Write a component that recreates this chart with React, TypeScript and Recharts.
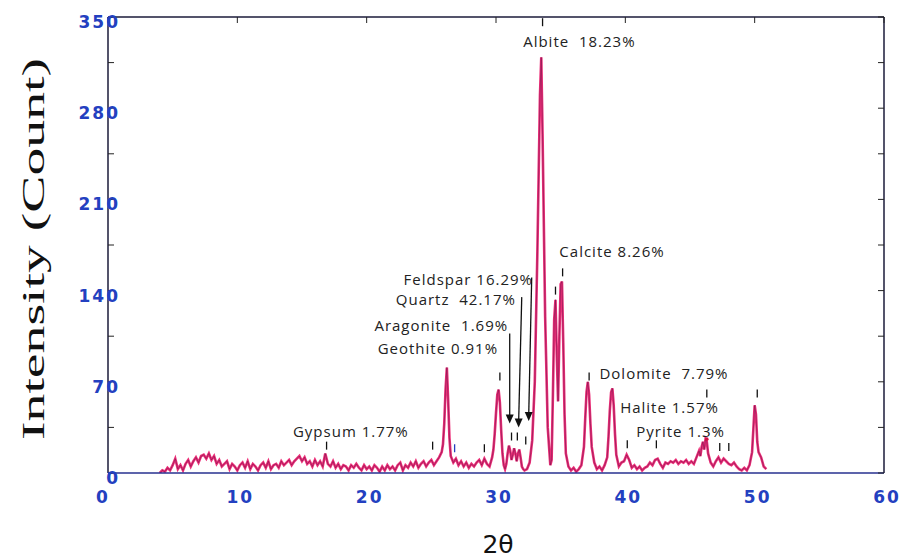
import React from 'react';
import { ComposedChart, Line, XAxis, YAxis, ReferenceDot, ReferenceLine } from 'recharts';

// 2θ positions (degrees)
const angles = [
  4.0, 4.2, 4.4, 4.6, 4.8, 5.0, 5.2, 5.4, 5.6, 5.8,
  6.0, 6.2, 6.4, 6.6, 6.8, 7.0, 7.2, 7.4, 7.6, 7.8,
  8.0, 8.2, 8.4, 8.6, 8.8, 9.0, 9.2, 9.4, 9.6, 9.8,
  10.0, 10.2, 10.4, 10.6, 10.8, 11.0, 11.2, 11.4, 11.6, 11.8,
  12.0, 12.2, 12.4, 12.6, 12.8, 13.0, 13.2, 13.4, 13.6, 13.8,
  14.0, 14.2, 14.4, 14.6, 14.8, 15.0, 15.2, 15.4, 15.6, 15.8,
  16.0, 16.2, 16.4, 16.6, 16.8, 17.0, 17.2, 17.4, 17.6, 17.8,
  18.0, 18.2, 18.4, 18.6, 18.8, 19.0, 19.2, 19.4, 19.6, 19.8,
  20.0, 20.2, 20.4, 20.6, 20.8, 21.0, 21.2, 21.4, 21.6, 21.8,
  22.0, 22.2, 22.4, 22.6, 22.8, 23.0, 23.2, 23.4, 23.6, 23.8,
  24.0, 24.2, 24.4, 24.6, 24.8, 25.0, 25.2, 25.4, 25.6, 25.8,
  25.9, 26.0, 26.1, 26.2, 26.3, 26.4, 26.5, 26.7, 26.9, 27.1,
  27.3, 27.5, 27.7, 27.9, 28.1, 28.3, 28.5, 28.7, 28.9, 29.1,
  29.3, 29.5, 29.7, 29.8, 29.9, 30.0, 30.1, 30.2, 30.3, 30.4,
  30.5, 30.6, 30.7, 30.8, 30.9, 31.0, 31.1, 31.2, 31.3, 31.4,
  31.5, 31.6, 31.7, 31.8, 31.9, 32.0, 32.1, 32.2, 32.4, 32.6,
  32.8, 33.0, 33.2, 33.4, 33.5, 33.6, 33.8, 34.0, 34.2, 34.3,
  34.4, 34.5, 34.6, 34.7, 34.8, 34.9, 35.0, 35.1, 35.2, 35.3,
  35.4, 35.6, 35.8, 36.0, 36.2, 36.4, 36.6, 36.8, 36.9, 37.0,
  37.1, 37.2, 37.3, 37.4, 37.6, 37.8, 38.0, 38.2, 38.4, 38.6,
  38.7, 38.8, 38.9, 39.0, 39.1, 39.2, 39.3, 39.5, 39.7, 39.9,
  40.1, 40.3, 40.5, 40.7, 40.9, 41.1, 41.3, 41.5, 41.7, 41.9,
  42.1, 42.3, 42.5, 42.7, 42.9, 43.1, 43.3, 43.5, 43.7, 43.9,
  44.1, 44.3, 44.5, 44.7, 44.9, 45.1, 45.3, 45.5, 45.7, 45.8,
  45.9, 46.0, 46.1, 46.2, 46.3, 46.4, 46.6, 46.8, 47.0, 47.2,
  47.4, 47.6, 47.8, 48.0, 48.2, 48.4, 48.6, 48.8, 49.0, 49.2,
  49.4, 49.6, 49.8, 49.9, 50.0, 50.1, 50.2, 50.3, 50.5, 50.7,
  50.9,
];

// Intensity (counts)
const counts = [
  0, 2, 1, 4, 2, 6, 11, 3, 6, 2,
  7, 10, 5, 9, 12, 8, 13, 14, 11, 15,
  10, 13, 7, 10, 5, 7, 9, 3, 7, 5,
  2, 6, 8, 4, 9, 3, 7, 5, 2, 6,
  8, 4, 9, 3, 6, 7, 4, 9, 6, 8,
  10, 6, 9, 11, 13, 9, 12, 7, 9, 5,
  10, 6, 9, 5, 15, 7, 5, 9, 4, 7,
  3, 6, 5, 2, 6, 4, 7, 4, 2, 6,
  3, 5, 2, 6, 4, 1, 5, 2, 6, 3,
  5, 2, 6, 8, 2, 6, 4, 8, 5, 9,
  4, 7, 9, 5, 8, 10, 6, 9, 12, 16,
  22, 38, 64, 81, 56, 27, 13, 8, 11, 6,
  9, 5, 8, 4, 7, 5, 8, 10, 6, 11,
  7, 5, 12, 18, 30, 46, 60, 64, 54, 33,
  15, 6, 3, 7, 15, 21, 17, 10, 14, 19,
  15, 9, 15, 18, 12, 5, 3, 2, 3, 8,
  25, 70, 170, 290, 319, 260, 120, 35, 6, 10,
  60, 118, 133, 90, 55, 105, 145, 147, 100, 45,
  15, 5, 2, 4, 1, 3, 6, 20, 42, 62,
  70, 60, 38, 20, 8, 3, 5, 2, 6, 12,
  28, 48, 62, 65, 52, 30, 14, 5, 8, 9,
  14, 10, 4, 6, 3, 5, 2, 4, 5, 8,
  6, 10, 11, 7, 4, 8, 7, 9, 8, 10,
  7, 9, 8, 10, 7, 9, 7, 12, 17, 13,
  20, 24, 18, 26, 24, 15, 8, 5, 9, 12,
  8, 11, 9, 7, 6, 8, 5, 3, 2, 4,
  2, 6, 16, 34, 52, 45, 24, 16, 12, 5,
  3,
];

const xTicks = [0, 10, 20, 30, 40, 50, 60];
const yTicks = [0, 35, 70, 105, 140, 175, 210, 245, 280, 315, 350];
const yLabelTicks = [0, 70, 140, 210, 280, 350];

// peak markers [2θ, counts]
const peakMarkers: [number, number][] = [
  [16.9, 21], [25.1, 21], [29.1, 19], [30.3, 74], [31.2, 28], [31.65, 28],
  [32.3, 25], [33.6, 346], [34.6, 140], [35.15, 154], [37.2, 74], [40.15, 22],
  [42.4, 22], [46.3, 61], [47.3, 20], [48.0, 20], [50.2, 61],
];
const bluePeakMarkers: [number, number][] = [[26.8, 19]];
const redDots: [number, number][] = [[46.3, 26]];

// phase annotations: label, 2θ of text start, counts of baseline
const phaseNames = ['Albite  18.23%', 'Calcite 8.26%', 'Feldspar 16.29%', 'Quartz  42.17%', 'Aragonite  1.69%', 'Geothite 0.91%', 'Gypsum 1.77%', 'Dolomite  7.79%', 'Halite 1.57%', 'Pyrite 1.3%'];
const phaseAngles = [32.1, 34.9, 22.85, 22.25, 20.6, 20.85, 14.3, 38.0, 39.6, 40.85];
const phaseCounts = [327, 166, 144, 129, 109, 91, 28, 72, 46, 28];

// arrows: [from 2θ, from counts, to 2θ, to counts]
const arrows: [number, number, number, number][] = [
  [31.06, 107, 31.06, 38],
  [31.99, 135, 31.75, 35],
  [32.76, 150, 32.53, 40],
];

const data = angles.map((t, i) => ({ t, c: counts[i] }));

const BLUE = '#2340c0';
const tickFont = { fontFamily: 'DejaVu Sans', fontWeight: 700, fontSize: 17, fill: BLUE, letterSpacing: 2 };

const LeftTick = (props: any) => {
  const { x, y, payload } = props;
  const v = payload.value;
  return (
    <g>
      <line x1={x} x2={x + 6} y1={y} y2={y} stroke="#222" strokeWidth={1} />
      {yLabelTicks.includes(v) && (
        <text x={x + 12} y={y + 11} textAnchor="end" style={tickFont as any}>{v}</text>
      )}
    </g>
  );
};

const RightTick = (props: any) => {
  const { x, y } = props;
  return <line x1={x} x2={x - 6} y1={y} y2={y} stroke="#222" strokeWidth={1} />;
};

const TopTick = (props: any) => {
  const { x, y } = props;
  return <line x1={x} x2={x} y1={y} y2={y + 6} stroke="#222" strokeWidth={1} />;
};

const BottomTick = (props: any) => {
  const { x, y, payload } = props;
  const dx = payload.value === 0 ? -5 : 3;
  return (
    <text x={x + dx} y={y + 30} textAnchor="middle" style={tickFont as any}>{payload.value}</text>
  );
};

const markerShape = (color: string) => (p: any) => (
  <line x1={p.cx} x2={p.cx} y1={p.cy - 4} y2={p.cy + 4} stroke={color} strokeWidth={1.3} />
);

const textShape = (txt: string) => (p: any) => (
  <text x={p.cx} y={p.cy} fontFamily="Open Sans" fontSize={15} letterSpacing={1} fill="#222" style={{ whiteSpace: 'pre' }}>{txt}</text>
);

const arrowHead = (p: any) => (
  <polygon points={`${p.cx - 4},${p.cy - 9} ${p.cx + 4},${p.cy - 9} ${p.cx},${p.cy}`} fill="#111" />
);

const YTitle = (props: any) => {
  const vb = props.viewBox;
  const cx = vb.x + 36;
  const cy = 249;
  return (
    <text
      x={cx}
      y={cy}
      transform={`rotate(-90 ${cx} ${cy})`}
      textAnchor="middle"
      fontFamily="Liberation Serif"
      fontSize={31}
      fill="#111"
      textLength={382}
      lengthAdjust="spacingAndGlyphs"
    >
      Intensity (Count)
    </text>
  );
};

const XTitle = (props: any) => {
  const vb = props.viewBox;
  return (
    <text x={vb.x + vb.width / 2 + 2} y={vb.y + 80} textAnchor="middle" fontFamily="DejaVu Sans" fontSize={25} fill="#111">
      2θ
    </text>
  );
};

export default function App() {
  return (
    <div style={{ position: 'absolute', left: 0, top: 0, width: 905, height: 560, background: '#fff' }}>
      <ComposedChart width={905} height={560} data={data} margin={{ top: 16, right: 11, bottom: 7, left: 8 }}>
        <XAxis
          xAxisId="b"
          dataKey="t"
          type="number"
          domain={[0, 60]}
          ticks={xTicks}
          interval={0}
          tickSize={0}
          tickMargin={0}
          tickLine={false}
          tick={<BottomTick />}
          height={80}
          axisLine={{ stroke: '#27308f', strokeWidth: 1.6 }}
          allowDataOverflow
          label={XTitle}
        />
        <XAxis
          xAxisId="top"
          orientation="top"
          dataKey="t"
          type="number"
          domain={[0, 60]}
          ticks={xTicks}
          interval={0}
          tickSize={0}
          tickMargin={0}
          tickLine={false}
          tick={<TopTick />}
          height={1}
          axisLine={{ stroke: '#1b1b3a', strokeWidth: 1.5 }}
        />
        <YAxis
          yAxisId="l"
          type="number"
          domain={[0, 350]}
          ticks={yTicks}
          interval={0}
          tickSize={0}
          tickMargin={0}
          tickLine={false}
          tick={<LeftTick />}
          width={100}
          axisLine={{ stroke: '#1b1b3a', strokeWidth: 1.5 }}
          allowDataOverflow
          label={YTitle}
        />
        <YAxis
          yAxisId="r"
          orientation="right"
          type="number"
          domain={[0, 350]}
          ticks={yTicks}
          interval={0}
          tickSize={0}
          tickMargin={0}
          tickLine={false}
          tick={<RightTick />}
          width={10}
          axisLine={{ stroke: '#1b1b3a', strokeWidth: 1.5 }}
        />
        <Line xAxisId="top" yAxisId="r" dataKey="c" stroke="none" dot={false} isAnimationActive={false} legendType="none" />
        <Line xAxisId="b" yAxisId="l" type="linear" dataKey="c" stroke="#ec2f78" strokeWidth={2.6} dot={false} isAnimationActive={false} />
        <Line xAxisId="b" yAxisId="l" type="linear" dataKey="c" stroke="#6a0f48" strokeWidth={0.6} strokeOpacity={0.85} dot={false} isAnimationActive={false} />
        {arrows.map((a, i) => (
          <ReferenceLine
            key={`ar${i}`}
            xAxisId="b"
            yAxisId="l"
            segment={[{ x: a[0], y: a[1] }, { x: a[2], y: a[3] + 4 }]}
            stroke="#111"
            strokeWidth={1.3}
          />
        ))}
        {arrows.map((a, i) => (
          <ReferenceDot key={`ah${i}`} xAxisId="b" yAxisId="l" x={a[2]} y={a[3]} r={0} shape={arrowHead} />
        ))}
        {peakMarkers.map((m, i) => (
          <ReferenceDot key={`pm${i}`} xAxisId="b" yAxisId="l" x={m[0]} y={m[1]} r={0} shape={markerShape('#111')} />
        ))}
        {bluePeakMarkers.map((m, i) => (
          <ReferenceDot key={`bm${i}`} xAxisId="b" yAxisId="l" x={m[0]} y={m[1]} r={0} shape={markerShape('#2340c0')} />
        ))}
        {redDots.map((m, i) => (
          <ReferenceDot key={`rd${i}`} xAxisId="b" yAxisId="l" x={m[0]} y={m[1]} r={1.8} fill="#d01040" stroke="none" />
        ))}
        {phaseNames.map((n, i) => (
          <ReferenceDot key={`pl${i}`} xAxisId="b" yAxisId="l" x={phaseAngles[i]} y={phaseCounts[i]} r={0} shape={textShape(n)} />
        ))}
      </ComposedChart>
    </div>
  );
}
